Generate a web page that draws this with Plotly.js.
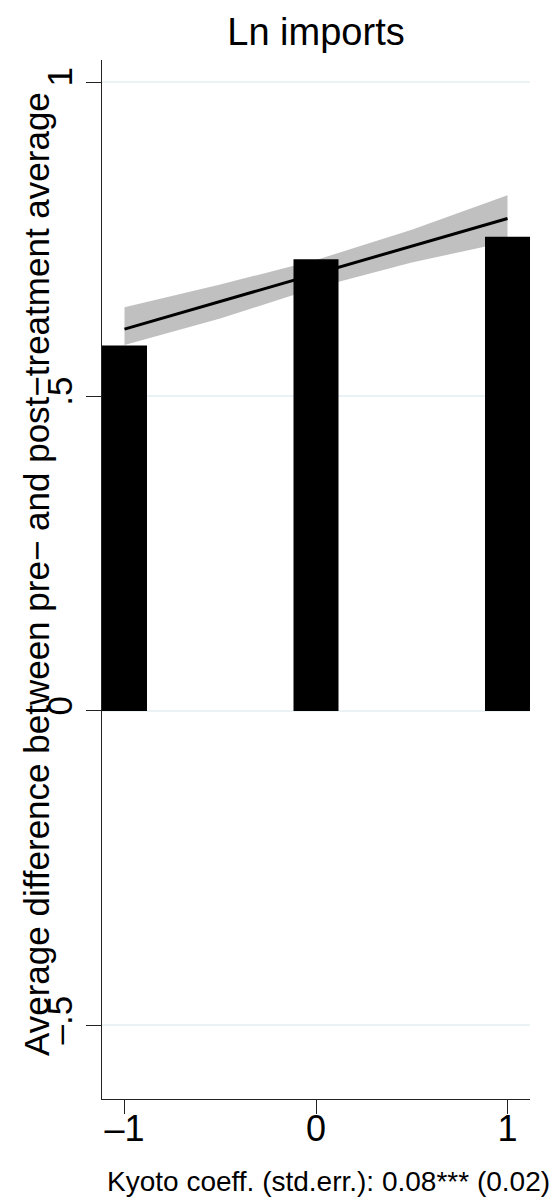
<!DOCTYPE html>
<html>
<head>
<meta charset="utf-8">
<script src="https://cdn.plot.ly/plotly-3.0.1.min.js"></script>
<style>html,body{margin:0;padding:0;background:#fff;}#chart{width:558px;height:1203px;}</style>
</head>
<body>
<div id="chart"></div>
<script>
// Data
const categories = [-1, 0, 1];
const barValues = [0.581, 0.718, 0.754];
const fitX = [-1, 1];
const fitY = [0.607, 0.783];
const bandX = [-1, -0.5, 0, 0.5, 1];
const bandUpper = [0.642, 0.678, 0.717, 0.765, 0.820];
const bandLower = [0.582, 0.624, 0.673, 0.713, 0.746];
const xTickVals = [-1, 0, 1];
const xTickText = ["\u20131", "0", "1"];
const yTickVals = [-0.5, 0, 0.5, 1];
const yTickText = ["\u2013.5", "0", ".5", "1"];
const titleText = "Ln imports";
const yTitleText = "Average difference between pre\u2212 and post\u2212treatment average";
const noteText = "Kyoto coeff. (std.err.): 0.08*** (0.02)";

const FONT = '"Liberation Sans", Arial, sans-serif';
const xRange = [-1.1175, 1.1175];
const yRange = [-0.617, 1.035];

const W = 558, H = 1203;
const M = {l: 102, r: 28, t: 60, b: 104};
const plotW = W - M.l - M.r, plotH = H - M.t - M.b;

const traces = [
  {x: bandX, y: bandLower, type: 'scatter', mode: 'lines', line: {width: 0, color: 'rgba(0,0,0,0)'}, hoverinfo: 'skip', showlegend: false},
  {x: bandX, y: bandUpper, type: 'scatter', mode: 'lines', fill: 'tonexty', fillcolor: '#c0c0c0', line: {width: 0, color: 'rgba(0,0,0,0)'}, hoverinfo: 'skip', showlegend: false},
  {x: fitX, y: fitY, type: 'scatter', mode: 'lines', line: {color: '#000', width: 3}, showlegend: false},
  {x: categories, y: barValues, type: 'bar', width: 0.235, marker: {color: '#000', line: {width: 0}}, xaxis: 'x2', yaxis: 'y2', showlegend: false}
];

const layout = {
  width: W, height: H,
  margin: M,
  paper_bgcolor: '#fff', plot_bgcolor: '#fff',
  font: {family: FONT, color: '#000', size: 35},
  showlegend: false,
  title: {text: titleText, font: {family: FONT, size: 38, color: '#000'}, x: 0.5, xref: 'paper', xanchor: 'center', y: 1 - 32 / H, yref: 'container', yanchor: 'middle'},
  xaxis: {
    range: xRange, tickvals: xTickVals, ticktext: xTickText,
    ticks: 'outside', ticklen: 14, tickwidth: 1.3, tickcolor: '#222',
    ticklabelstandoff: -16,
    showline: true, linecolor: '#222', linewidth: 1.3,
    showgrid: false, zeroline: false,
    tickfont: {family: FONT, size: 36, color: '#000'}
  },
  yaxis: {
    range: yRange, tickvals: yTickVals, ticktext: yTickText, tickangle: -90,
    ticks: 'outside', ticklen: 15, tickwidth: 1.3, tickcolor: '#222',
    ticklabelstandoff: 0,
    showline: true, linecolor: '#222', linewidth: 1.3,
    showgrid: true, gridcolor: '#eaf2f3', gridwidth: 2, zeroline: false,
    tickfont: {family: FONT, size: 35, color: '#000'}
  },
  xaxis2: {range: xRange, overlaying: 'x', visible: false, showgrid: false, zeroline: false},
  yaxis2: {range: yRange, overlaying: 'y', visible: false, showgrid: false, zeroline: false},
  annotations: [
    {text: yTitleText, textangle: -90, xref: 'paper', yref: 'paper',
     x: (36 - M.l) / plotW, y: (H - M.b - 574) / plotH, xanchor: 'center', yanchor: 'middle',
     showarrow: false, font: {family: FONT, size: 35, color: '#000'}},
    {text: noteText, xref: 'paper', yref: 'paper',
     x: (328 - M.l) / plotW, y: (H - M.b - 1181) / plotH, xanchor: 'center', yanchor: 'middle',
     showarrow: false, font: {family: FONT, size: 28, color: '#000'}}
  ]
};

Plotly.newPlot('chart', traces, layout, {displayModeBar: false, responsive: false});
</script>
</body>
</html>
